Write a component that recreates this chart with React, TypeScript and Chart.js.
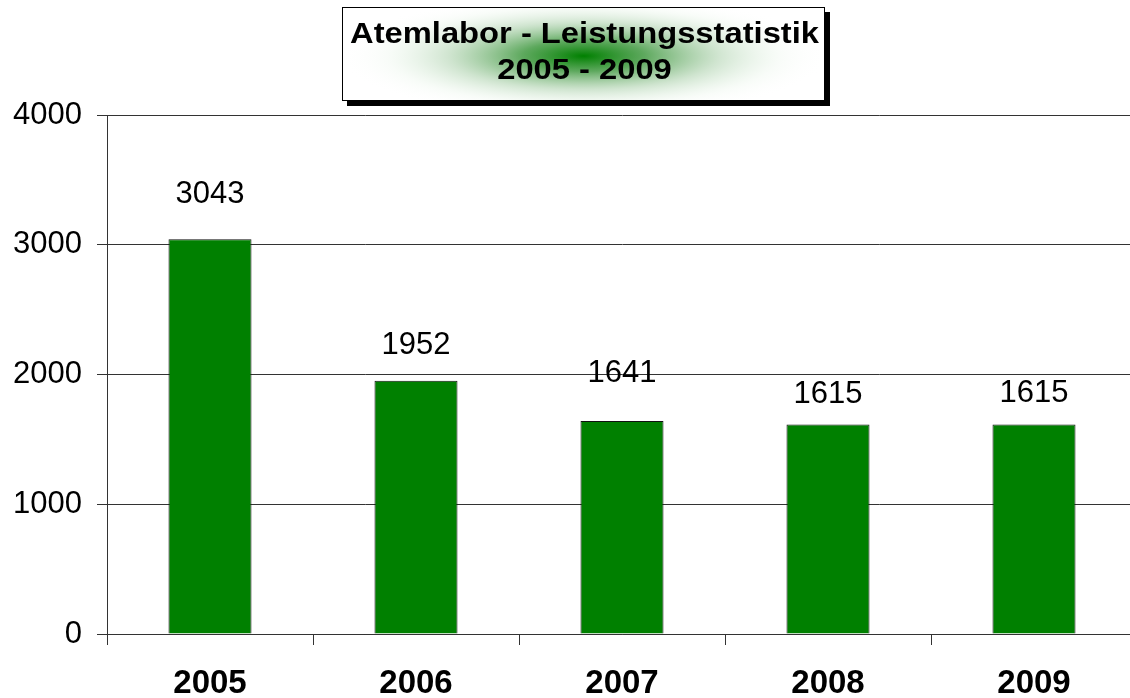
import React, { useEffect, useRef } from "react";
import { Chart, registerables } from "chart.js";

Chart.register(...registerables);

const categories = ["2005", "2006", "2007", "2008", "2009"];
const values = [3043, 1952, 1641, 1615, 1615];
const yTicks = [0, 1000, 2000, 3000, 4000];
const titleLines = ["Atemlabor - Leistungsstatistik", "2005 - 2009"];
const labelOffsets = [45, 35, 48, 30, 31];

const FONT = "'Liberation Sans', Arial, sans-serif";

const titlePlugin = {
  id: "titleBox",
  afterDraw(chart: any) {
    const ctx = chart.ctx;
    const x0 = 342, y0 = 7, w = 483, h = 94;
    ctx.save();
    // shadow
    ctx.fillStyle = "#000";
    ctx.fillRect(x0 + 5, y0 + 5, w, h);
    ctx.fillStyle = "#fff";
    ctx.fillRect(x0, y0, w, h);
    // radial gradient
    const cx = x0 + w / 2, cy = y0 + h / 2 + 2;
    ctx.save();
    ctx.beginPath();
    ctx.rect(x0, y0, w, h);
    ctx.clip();
    ctx.translate(cx, cy);
    ctx.scale(1, 0.25);
    const g = ctx.createRadialGradient(0, 0, 0, 0, 0, 245);
    g.addColorStop(0, "rgba(0,128,0,1)");
    g.addColorStop(0.25, "rgba(40,140,40,0.75)");
    g.addColorStop(0.55, "rgba(120,180,120,0.35)");
    g.addColorStop(0.8, "rgba(200,230,200,0.12)");
    g.addColorStop(1, "rgba(255,255,255,0)");
    ctx.fillStyle = g;
    ctx.fillRect(-w, -h * 5, w * 2, h * 10);
    ctx.restore();
    ctx.strokeStyle = "#000";
    ctx.lineWidth = 1;
    ctx.strokeRect(x0 + 0.5, y0 + 0.5, w - 1, h - 1);
    ctx.fillStyle = "#000";
    ctx.font = `bold 29px ${FONT}`;
    ctx.textAlign = "center";
    ctx.textBaseline = "middle";
    const m = ctx.measureText(titleLines[0]).width;
    const sx = 469 / m;
    ctx.save();
    ctx.translate(cx + 1, 0);
    ctx.scale(sx, 1);
    ctx.fillText(titleLines[0], 0, 35);
    ctx.fillText(titleLines[1], 0, 71);
    ctx.restore();
    ctx.restore();
  },
};

const valueLabelPlugin = {
  id: "valueLabels",
  afterDatasetsDraw(chart: any) {
    const ctx = chart.ctx;
    const meta = chart.getDatasetMeta(0);
    ctx.save();
    ctx.fillStyle = "#000";
    ctx.font = `31px ${FONT}`;
    ctx.textAlign = "center";
    ctx.textBaseline = "middle";
    meta.data.forEach((bar: any, i: number) => {
      ctx.fillText(String(values[i]), bar.x, bar.y - labelOffsets[i]);
    });
    ctx.restore();
  },
};

export default function App() {
  const ref = useRef<HTMLCanvasElement>(null);
  useEffect(() => {
    document.body.style.margin = "0";
    const chart = new Chart(ref.current!, {
      type: "bar",
      data: {
        labels: categories,
        datasets: [
          {
            data: values,
            backgroundColor: "#008000",
            borderColor: "#111",
            borderWidth: 1,
            barPercentage: 0.403,
            categoryPercentage: 1,
          },
        ],
      },
      options: {
        responsive: false,
        animation: false,
        devicePixelRatio: 1,
        layout: { padding: { top: 115, right: 3, left: 0, bottom: 0 } },
        plugins: {
          legend: { display: false },
          title: { display: false },
          tooltip: { enabled: false },
        },
        scales: {
          x: {
            offset: true,
            grid: {
              offset: true,
              drawOnChartArea: false,
              drawTicks: true,
              tickLength: 11,
              color: "#333",
            },
            border: { color: "#333", width: 1 },
            ticks: {
              color: "#000",
              font: { family: FONT, size: 33, weight: "bold" },
              padding: 19,
            },
            afterFit: (s: any) => {
              s.height = 64;
            },
          },
          y: {
            min: 0,
            max: 4000,
            afterBuildTicks: (s: any) => {
              s.ticks = yTicks.map((v) => ({ value: v }));
            },
            grid: { color: "#333", tickLength: 10, lineWidth: 1 },
            border: { color: "#333", width: 1 },
            ticks: {
              color: "#000",
              font: { family: FONT, size: 31 },
              padding: 15,
              callback: (v: any) => String(v),
            },
            afterFit: (s: any) => {
              s.width = 107;
            },
          },
        },
      },
      plugins: [valueLabelPlugin, titlePlugin],
    });
    return () => chart.destroy();
  }, []);
  return (
    <div style={{ width: 1130, height: 698, overflow: "hidden", background: "#fff" }}>
      <canvas ref={ref} width={1140} height={698} />
    </div>
  );
}
